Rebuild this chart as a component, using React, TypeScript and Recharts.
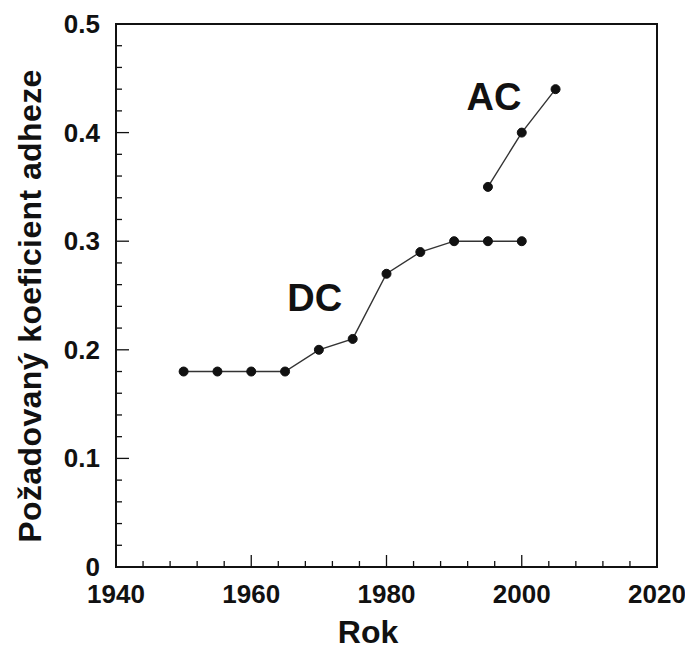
import React from 'react'
import {
  LineChart,
  Line,
  XAxis,
  YAxis,
  ReferenceArea,
  ReferenceDot
} from 'recharts'

// DC series (rok / koeficient)
const dcYears = [1950, 1955, 1960, 1965, 1970, 1975, 1980, 1985, 1990, 1995, 2000]
const dcValues = [0.18, 0.18, 0.18, 0.18, 0.2, 0.21, 0.27, 0.29, 0.3, 0.3, 0.3]

// AC series
const acYears = [1995, 2000, 2005]
const acValues = [0.35, 0.4, 0.44]

// axis ticks
const xTicks = [1940, 1944, 1948, 1952, 1956, 1960, 1964, 1968, 1972, 1976, 1980, 1984, 1988, 1992, 1996, 2000, 2004, 2008, 2012, 2016, 2020]
const xMajor = [1940, 1960, 1980, 2000, 2020]
const yTicks = [0, 0.02, 0.04, 0.06, 0.08, 0.1, 0.12, 0.14, 0.16, 0.18, 0.2, 0.22, 0.24, 0.26, 0.28, 0.3, 0.32, 0.34, 0.36, 0.38, 0.4, 0.42, 0.44, 0.46, 0.48, 0.5]
const yMajor = [0, 0.1, 0.2, 0.3, 0.4, 0.5]

// series labels
const labels = [
  { text: 'DC', x: 1969.4, y: 0.248 },
  { text: 'AC', x: 1995.9, y: 0.433 }
]

const dcData = dcYears.map((year, i) => ({ year, value: dcValues[i] }))
const acData = acYears.map((year, i) => ({ year, value: acValues[i] }))

const font = 'Arial, "Liberation Sans", Helvetica, sans-serif'
const ink = '#111'

const isMajor = (list: number[], v: number) => list.some(m => Math.abs(m - v) < 1e-6)

const XTick = (props: any) => {
  const { x, y, payload } = props
  const major = isMajor(xMajor, payload.value)
  return (
    <g>
      <line x1={x} y1={y} x2={x} y2={y - (major ? 12 : 6)} stroke={ink} strokeWidth={1.3} />
      {major && (
        <text x={x} y={y + 36} textAnchor="middle" fontSize={26} fontWeight="bold" fontFamily={font} fill={ink}>
          {payload.value}
        </text>
      )}
    </g>
  )
}

const YTick = (props: any) => {
  const { x, y, payload } = props
  const major = isMajor(yMajor, payload.value)
  return (
    <g>
      <line x1={x} y1={y} x2={x + (major ? 13 : 6)} y2={y} stroke={ink} strokeWidth={1.3} />
      {major && (
        <text x={x - 16} y={y + 9} textAnchor="end" fontSize={26} fontWeight="bold" fontFamily={font} fill={ink}>
          {payload.value === 0 ? '0' : payload.value.toFixed(1)}
        </text>
      )}
    </g>
  )
}

export default function App() {
  return (
    <div style={{ position: 'absolute', left: 0, top: 0, background: '#fff' }}>
      <LineChart
        width={685}
        height={650}
        margin={{ top: 24, right: 28, left: 56, bottom: 43 }}
      >
        <XAxis
          type="number"
          dataKey="year"
          domain={[1940, 2020]}
          ticks={xTicks}
          interval={0}
          tickSize={0}
          tickMargin={0}
          tickLine={false}
          tick={<XTick />}
          height={40}
          axisLine={{ stroke: ink, strokeWidth: 2 }}
          allowDataOverflow
        />
        <YAxis
          type="number"
          domain={[0, 0.5]}
          ticks={yTicks}
          interval={0}
          tickSize={0}
          tickMargin={0}
          tickLine={false}
          tick={<YTick />}
          width={60}
          axisLine={{ stroke: ink, strokeWidth: 2 }}
        />
        <ReferenceArea x1={1940} x2={2020} y1={0} y2={0.5} fill="none" stroke={ink} strokeWidth={2} />
        <Line
          data={dcData}
          dataKey="value"
          type="linear"
          stroke="#333"
          strokeWidth={1.4}
          dot={{ r: 4.5, fill: ink, stroke: ink, strokeWidth: 1 }}
          isAnimationActive={false}
        />
        <Line
          data={acData}
          dataKey="value"
          type="linear"
          stroke="#333"
          strokeWidth={1.4}
          dot={{ r: 4.5, fill: ink, stroke: ink, strokeWidth: 1 }}
          isAnimationActive={false}
        />
        {labels.map(l => (
          <ReferenceDot
            key={l.text}
            x={l.x}
            y={l.y}
            r={0}
            fill="none"
            stroke="none"
            label={{
              value: l.text,
              position: 'center',
              fontSize: 38,
              fontWeight: 'bold',
              fontFamily: font,
              fill: ink
            }}
          />
        ))}
      </LineChart>
      <div
        style={{
          position: 'absolute',
          left: 30,
          top: 306,
          transform: 'translate(-50%, -50%) rotate(-90deg)',
          whiteSpace: 'nowrap',
          fontFamily: font,
          fontWeight: 'bold',
          fontSize: 32,
          letterSpacing: 0.4,
          color: ink
        }}
      >
        Požadovaný koeficient adheze
      </div>
      <div
        style={{
          position: 'absolute',
          left: 368,
          top: 614,
          transform: 'translateX(-50%)',
          fontFamily: font,
          fontWeight: 'bold',
          fontSize: 32,
          color: ink
        }}
      >
        Rok
      </div>
    </div>
  )
}
